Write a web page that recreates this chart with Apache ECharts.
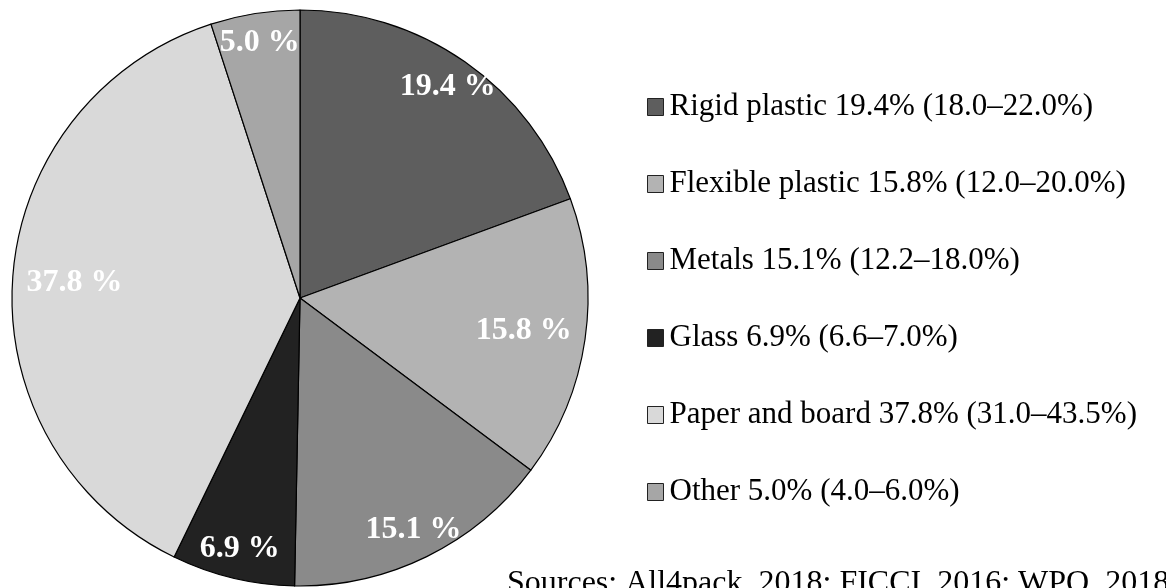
<!DOCTYPE html>
<html>
<head>
<meta charset="utf-8">
<script src="https://cdn.jsdelivr.net/npm/echarts@6/dist/echarts.min.js"></script>
<style>
  html, body { margin: 0; padding: 0; background: #fff; }
  #chart { width: 1166px; height: 588px; }
</style>
</head>
<body>
<div id="chart"></div>
<script>
/* Packaging material shares pie, greyscale with range legend. */
const names = ["Rigid plastic", "Flexible plastic", "Metals", "Glass", "Paper and board", "Other"];
const shares = [19.4, 15.8, 15.1, 6.9, 37.8, 5.0];
const lows = ["18.0", "12.0", "12.2", "6.6", "31.0", "4.0"];
const highs = ["22.0", "20.0", "18.0", "7.0", "43.5", "6.0"];
const colors = ["#5e5e5e", "#b3b3b3", "#8a8a8a", "#222222", "#d9d9d9", "#a6a6a6"];
// slices whose label sits closer to the centre
const nearLabels = ["Flexible plastic", "Paper and board"];
const source = "Sources: All4pack, 2018; FICCI, 2016; WPO, 2018";

const FONT = "'Liberation Serif', 'Times New Roman', serif";
const CX = 300, CY = 298, R = 288;

const pieData = names.map((n, i) => ({ name: n, value: shares[i], itemStyle: { color: colors[i] } }));

// transparent rings used only to place the value labels
const labelRing = (near) => ({
  type: "pie", silent: true, legendHoverLink: false,
  center: [CX, CY], radius: near ? [158, R] : [222, R],
  startAngle: 90, clockwise: true, animation: false,
  itemStyle: { color: "rgba(0,0,0,0)", borderWidth: 0 },
  label: { show: false },
  labelLine: { show: false },
  data: names.map((n, i) => ({
    name: n, value: shares[i],
    label: {
      show: nearLabels.includes(n) === near, position: "inside",
      formatter: shares[i].toFixed(1) + " %",
      color: "#fff", fontFamily: FONT, fontWeight: "bold", fontSize: 32,
    },
  })),
});

const chart = echarts.init(document.getElementById("chart"), null, { renderer: "canvas" });
chart.setOption({
  animation: false,
  color: colors,
  legend: {
    orient: "vertical", left: 647, top: 89, padding: 0,
    itemWidth: 16, itemHeight: 17, itemGap: 41,
    icon: "rect",
    itemStyle: { borderColor: "#222", borderWidth: 1 },
    selectedMode: false,
    textStyle: { fontFamily: FONT, fontSize: 31, color: "#000", lineHeight: 36, padding: [0, 0, 0, 1] },
    formatter: (n) => {
      const i = names.indexOf(n);
      return `${n} ${shares[i].toFixed(1)}% (${lows[i]}–${highs[i]}%)`;
    },
    data: names,
  },
  series: [
    {
      type: "pie", center: [CX, CY], radius: [0, R],
      startAngle: 90, clockwise: true, silent: true,
      itemStyle: { borderColor: "#000", borderWidth: 1.2 },
      label: { show: false }, labelLine: { show: false },
      emphasis: { disabled: true },
      data: pieData,
    },
    labelRing(false),
    labelRing(true),
  ],
  graphic: [{
    type: "text", left: 507, top: 568,
    style: { text: source, font: `32px ${FONT}`, fill: "#000" },
  }],
});
</script>
</body>
</html>
